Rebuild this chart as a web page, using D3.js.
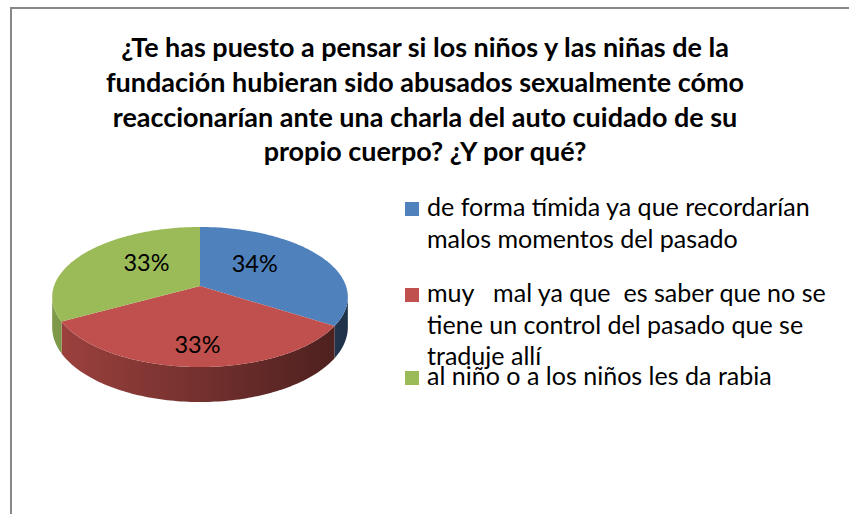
<!DOCTYPE html>
<html>
<head>
<meta charset="utf-8">
<script src="https://cdn.jsdelivr.net/npm/d3@7"></script>
<style>
  body { margin: 0; background: #fff; }
  text { font-family: Lato, 'Liberation Sans', sans-serif; fill: #000; }
</style>
</head>
<body>
<div id="chart"></div>
<script>
// chart data
const titleLines = [
  '¿Te has puesto a pensar si los niños y las niñas de la',
  'fundación hubieran sido abusados sexualmente cómo',
  'reaccionarían ante una charla del auto cuidado de su',
  'propio cuerpo? ¿Y por qué?'
];
const categories = [
  ['de forma tímida ya que recordarían', 'malos momentos del pasado'],
  ['muy   mal ya que  es saber que no se', 'tiene un control del pasado que se', 'traduje allí'],
  ['al niño o a los niños les da rabia']
];
const values = [34, 33, 33];
const labels = ['34%', '33%', '33%'];
const colors = ['#4f81bd', '#c0504d', '#9bbb59'];

const width = 849, height = 514;

const svg = d3.select('#chart')
  .append('svg')
  .attr('width', width)
  .attr('height', height);

// chart border (runs off the right and bottom edge)
svg.append('rect')
  .attr('x', 11)
  .attr('y', 8)
  .attr('width', 900)
  .attr('height', 600)
  .attr('fill', 'none')
  .attr('stroke', '#878787')
  .attr('stroke-width', 2);

// fit a font size so a text reaches a given width
const fitSize = (str, weight, target) => {
  const t = svg.append('text').attr('font-size', 100).attr('font-weight', weight)
    .style('white-space', 'pre').text(str);
  const w = t.node().getComputedTextLength();
  t.remove();
  return 100 * target / w;
};

// title
const titleSize = fitSize(titleLines[0], 'bold', 608);
svg.append('g')
  .selectAll('text')
  .data(titleLines)
  .enter()
  .append('text')
  .attr('x', 425)
  .attr('y', (d, i) => 57 + i * 34.8)
  .attr('text-anchor', 'middle')
  .attr('font-weight', 'bold')
  .attr('font-size', titleSize)
  .text((d) => d);

// 3d pie with a bit of perspective
const cx = 200, cy = 286;
const rx = 146, ry = 68.3, persp = 0.157, depth = 29.5;

const proj = (a, drop) => {
  const u = Math.sin(a), v = -Math.cos(a);
  const s = 1 / (1 - persp * v);
  return [cx + rx * u * s, cy + ry * v * s + drop * depth * s];
};

const arcPoints = (a0, a1, drop) => {
  const n = Math.max(2, Math.ceil((a1 - a0) / 0.02));
  return d3.range(n + 1).map((i) => proj(a0 + (a1 - a0) * i / n, drop));
};

const pie = d3.pie().sort(null).value((d) => d);
const slices = pie(values);

// horizontal shading for the sides
const defs = svg.append('defs');
colors.forEach((c, i) => {
  const g = defs.append('linearGradient')
    .attr('id', 'side' + i)
    .attr('gradientUnits', 'userSpaceOnUse')
    .attr('x1', cx - rx * 1.02).attr('x2', cx + rx * 1.02)
    .attr('y1', 0).attr('y2', 0);
  g.append('stop').attr('offset', 0).attr('stop-color', d3.color(c).darker(0.55));
  g.append('stop').attr('offset', 1).attr('stop-color', d3.color(c).darker(2.7));
});

const sideL = Math.acos(-persp), sideR = 2 * Math.PI - sideL;
const line = d3.line();

svg.append('g')
  .selectAll('path')
  .data(slices)
  .enter()
  .append('path')
  .attr('d', (d) => {
    const a0 = Math.max(d.startAngle, sideL), a1 = Math.min(d.endAngle, sideR);
    if (a1 <= a0) return null;
    const top = arcPoints(a0, a1, 0);
    const bottom = arcPoints(a0, a1, 1).reverse();
    return line(top.concat(bottom)) + 'Z';
  })
  .attr('fill', (d, i) => `url(#side${i})`);

svg.append('g')
  .selectAll('path')
  .data(slices)
  .enter()
  .append('path')
  .attr('d', (d) => line([[cx, cy]].concat(arcPoints(d.startAngle, d.endAngle, 0))) + 'Z')
  .attr('fill', (d, i) => colors[i]);

// percentage labels
const labelSize = fitSize('34%', 'normal', 46);
svg.append('g')
  .selectAll('text')
  .data(slices)
  .enter()
  .append('text')
  .attr('x', (d) => {
    const p = proj((d.startAngle + d.endAngle) / 2, 0);
    return cx + 0.46 * (p[0] - cx);
  })
  .attr('y', (d) => {
    const p = proj((d.startAngle + d.endAngle) / 2, 0);
    return cy + 0.72 * (p[1] - cy);
  })
  .attr('dy', '0.35em')
  .attr('text-anchor', 'middle')
  .attr('font-size', labelSize)
  .text((d, i) => labels[i]);

// legend
const legendSize = fitSize(categories[0][0], 'normal', 383);
const legendTop = [216, 302, 385];
const legend = svg.append('g')
  .selectAll('g')
  .data(categories)
  .enter()
  .append('g')
  .attr('transform', (d, i) => `translate(405, ${legendTop[i]})`);

legend.append('rect')
  .attr('x', 0)
  .attr('y', -14)
  .attr('width', 14)
  .attr('height', 14)
  .attr('fill', (d, i) => colors[i]);

legend.selectAll('text')
  .data((d) => d)
  .enter()
  .append('text')
  .attr('x', 22)
  .attr('y', (d, j) => j * 31.5)
  .attr('font-size', legendSize)
  .style('white-space', 'pre')
  .text((d) => d);
</script>
</body>
</html>
